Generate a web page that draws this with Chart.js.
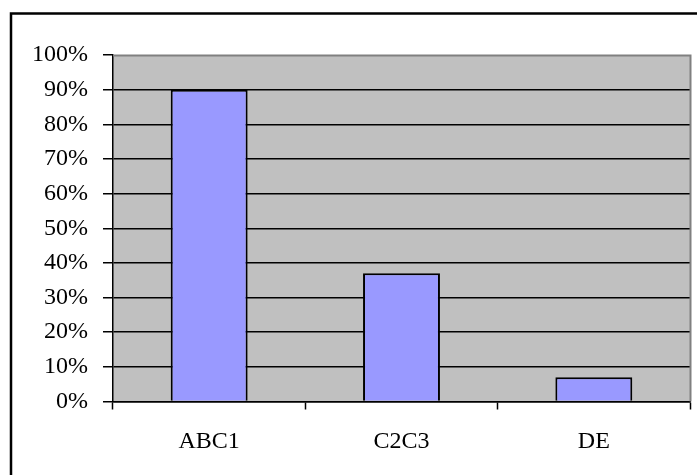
<!DOCTYPE html>
<html>
<head>
<meta charset="utf-8">
<script src="https://cdn.jsdelivr.net/npm/chart.js@4/dist/chart.umd.min.js"></script>
<style>
  html, body { margin: 0; padding: 0; background: #ffffff; }
  #wrap { width: 697px; height: 475px; position: relative; }
</style>
</head>
<body>
<div id="wrap"><canvas id="c" width="697" height="475"></canvas></div>
<script>
// Share of respondents by social grade
const categories = ['ABC1', 'C2C3', 'DE'];
const shares = [90, 37, 7];
const yTicks = [0, 10, 20, 30, 40, 50, 60, 70, 80, 90, 100];

const FONT = "'Liberation Serif', 'Times New Roman', serif";

// Page frame (top and left edges) plus the grey plot background and its border
const framePlugin = {
  id: 'frame',
  beforeDraw(chart) {
    const { ctx, chartArea: a } = chart;
    ctx.save();
    ctx.fillStyle = '#ffffff';
    ctx.fillRect(0, 0, chart.width, chart.height);
    ctx.strokeStyle = '#000000';
    ctx.lineWidth = 2.5;
    ctx.beginPath();
    ctx.moveTo(11, chart.height + 5);
    ctx.lineTo(11, 13.5);
    ctx.lineTo(chart.width + 5, 13.5);
    ctx.stroke();
    ctx.fillStyle = '#C0C0C0';
    ctx.fillRect(a.left, a.top, a.right - a.left, a.bottom - a.top);
    ctx.restore();
  },
  beforeDatasetsDraw(chart) {
    const { ctx, chartArea: a } = chart;
    ctx.save();
    ctx.strokeStyle = '#808080';
    ctx.lineWidth = 2;
    ctx.beginPath();
    ctx.moveTo(a.left, a.top + 0.5);
    ctx.lineTo(a.right + 0.5, a.top + 0.5);
    ctx.lineTo(a.right + 0.5, a.bottom);
    ctx.stroke();
    ctx.restore();
  }
};

new Chart(document.getElementById('c'), {
  type: 'bar',
  data: {
    labels: categories,
    datasets: [{
      data: shares,
      backgroundColor: '#9999FF',
      borderColor: '#000000',
      borderWidth: 2,
      barPercentage: 0.4,
      categoryPercentage: 1.0
    }]
  },
  options: {
    responsive: false,
    animation: false,
    layout: { padding: { top: 55, right: 7, bottom: 0, left: 0 } },
    plugins: { legend: { display: false }, tooltip: { enabled: false } },
    scales: {
      x: {
        offset: true,
        grid: {
          offset: true,
          drawOnChartArea: false,
          tickLength: 8,
          tickColor: '#000000',
          tickWidth: 1.5
        },
        border: { color: '#000000', width: 1.5 },
        ticks: {
          color: '#000000',
          font: { family: FONT, size: 24 },
          padding: 18
        },
        afterFit(scale) { scale.height = 73.5; }
      },
      y: {
        min: 0,
        max: 100,
        afterBuildTicks(scale) { scale.ticks = yTicks.map(v => ({ value: v })); },
        grid: {
          color: ctx => (ctx.tick && ctx.tick.value === 100) ? 'rgba(0,0,0,0)' : '#000000',
          lineWidth: 1.5,
          tickLength: 10,
          tickColor: '#000000',
          tickWidth: 1.5
        },
        border: { color: '#000000', width: 1.5 },
        ticks: {
          color: '#000000',
          font: { family: FONT, size: 24 },
          padding: 15,
          callback: v => v + '%'
        },
        afterFit(scale) { scale.width = 113; }
      }
    }
  },
  plugins: [framePlugin]
});
</script>
</body>
</html>
